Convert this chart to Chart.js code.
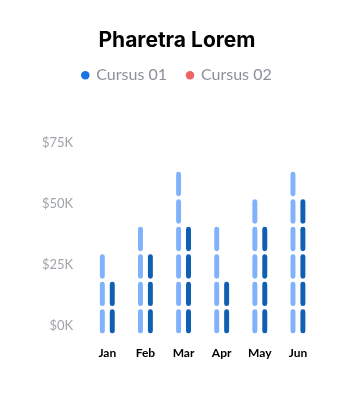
<!DOCTYPE html>
<html>
<head>
<meta charset="utf-8">
<script src="https://cdn.jsdelivr.net/npm/chart.js@4"></script>
<style>
  html, body { margin: 0; padding: 0; background: #fff; }
  #wrap { width: 353px; height: 402px; }
</style>
</head>
<body>
<div id="wrap"><canvas id="chart"></canvas></div>
<script>
// data
const months = ["Jan", "Feb", "Mar", "Apr", "May", "Jun"];
const seriesNames = ["Cursus 01", "Cursus 02"];
// number of blocks stacked in each bar
const cursus01Blocks = [3, 4, 6, 4, 5, 6];
const cursus02Blocks = [2, 3, 4, 2, 4, 5];
const blockValue = 11.3; // $K per block
const blockGap = 1.25; // $K left empty between blocks
const yTicks = [0, 25, 50, 75];

const legendColors = ["#1a73e0", "#ec6464"];
const barColors = ["#80b2fc", "#0f5fb3"];

// one floating-bar dataset per block level, grouped per series via "stack"
const datasets = [];
[cursus01Blocks, cursus02Blocks].forEach((blocks, s) => {
  const levels = Math.max(...blocks);
  for (let i = 0; i < levels; i++) {
    datasets.push({
      label: seriesNames[s],
      stack: "s" + s,
      data: blocks.map((n) =>
        n > i ? [i * blockValue, (i + 1) * blockValue - blockGap] : null
      ),
      backgroundColor: barColors[s],
      borderRadius: 3,
      borderSkipped: false,
      categoryPercentage: 0.52,
      barPercentage: 0.5,
    });
  }
});

// extra room under the legend, and title/legend nudged to the page centre
const headerTweaks = {
  id: "headerTweaks",
  beforeInit(chart) {
    const fit = chart.legend.fit;
    chart.legend.fit = function () {
      fit.bind(chart.legend)();
      this.height += 58;
    };
  },
  afterLayout(chart) {
    [chart.titleBlock, chart.legend].forEach((box) => {
      box.left += 5;
      box.right += 5;
    });
  },
};

new Chart(document.getElementById("chart"), {
  type: "bar",
  data: { labels: months, datasets: datasets },
  plugins: [headerTweaks],
  options: {
    responsive: true,
    maintainAspectRatio: false,
    animation: false,
    layout: { padding: { left: 27, right: 36, bottom: 30 } },
    plugins: {
      title: {
        display: true,
        text: "Pharetra Lorem",
        color: "#000",
        font: { family: "Inter, Roboto, sans-serif", size: 21, weight: "bold" },
        padding: { top: 28, bottom: -6 },
      },
      legend: {
        onClick: null,
        labels: {
          usePointStyle: true,
          boxWidth: 6,
          boxHeight: 6,
          padding: 20,
          color: "#8b9099",
          font: { family: "Lato, sans-serif", size: 16 },
          generateLabels: () =>
            seriesNames.map((name, i) => ({
              text: name,
              fillStyle: legendColors[i],
              strokeStyle: legendColors[i],
              lineWidth: 0,
              pointStyle: "circle",
              fontColor: "#8b9099",
              hidden: false,
              datasetIndex: i,
            })),
        },
      },
      tooltip: { enabled: false },
    },
    scales: {
      x: {
        stacked: true,
        grid: { display: false, drawTicks: false },
        border: { display: false },
        ticks: {
          color: "#000",
          padding: 12,
          font: { family: "Lato, sans-serif", size: 12, weight: "bold" },
        },
      },
      y: {
        stacked: false,
        min: 0,
        max: 75,
        afterBuildTicks: (axis) => {
          axis.ticks = yTicks.map((v) => ({ value: v }));
        },
        grid: { display: false, drawTicks: false },
        border: { display: false },
        ticks: {
          color: "#a0a4aa",
          padding: 15,
          labelOffset: -8,
          font: { family: "Lato, sans-serif", size: 13 },
          callback: (v) => "$" + v + "K",
        },
      },
    },
  },
});
</script>
</body>
</html>
